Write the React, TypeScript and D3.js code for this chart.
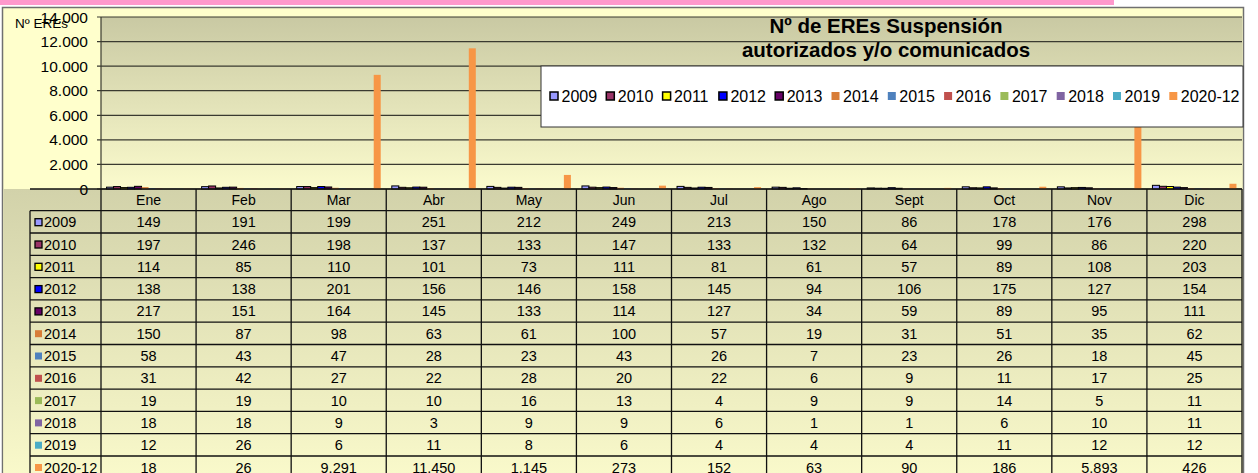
import React from "react";
import * as d3 from "d3";

const months = ["Ene", "Feb", "Mar", "Abr", "May", "Jun", "Jul", "Ago", "Sept", "Oct", "Nov", "Dic"];
const seriesNames = ["2009", "2010", "2011", "2012", "2013", "2014", "2015", "2016", "2017", "2018", "2019", "2020-12"];
const seriesColors = ["#9999ff", "#993366", "#ffff00", "#0000ff", "#660066", "#d87d38", "#4f81bd", "#c0504d", "#9bbb59", "#8064a2", "#4bacc6", "#f79646"];
const outlined = [true, true, true, true, true, false, false, false, false, false, false, false];

const v2009 = [149, 191, 199, 251, 212, 249, 213, 150, 86, 178, 176, 298];
const v2010 = [197, 246, 198, 137, 133, 147, 133, 132, 64, 99, 86, 220];
const v2011 = [114, 85, 110, 101, 73, 111, 81, 61, 57, 89, 108, 203];
const v2012 = [138, 138, 201, 156, 146, 158, 145, 94, 106, 175, 127, 154];
const v2013 = [217, 151, 164, 145, 133, 114, 127, 34, 59, 89, 95, 111];
const v2014 = [150, 87, 98, 63, 61, 100, 57, 19, 31, 51, 35, 62];
const v2015 = [58, 43, 47, 28, 23, 43, 26, 7, 23, 26, 18, 45];
const v2016 = [31, 42, 27, 22, 28, 20, 22, 6, 9, 11, 17, 25];
const v2017 = [19, 19, 10, 10, 16, 13, 4, 9, 9, 14, 5, 11];
const v2018 = [18, 18, 9, 3, 9, 9, 6, 1, 1, 6, 10, 11];
const v2019 = [12, 26, 6, 11, 8, 6, 4, 4, 4, 11, 12, 12];
const v2020 = [18, 26, 9291, 11450, 1145, 273, 152, 63, 90, 186, 5893, 426];

const seriesValues = [v2009, v2010, v2011, v2012, v2013, v2014, v2015, v2016, v2017, v2018, v2019, v2020];
const yTicks = [0, 2000, 4000, 6000, 8000, 10000, 12000, 14000];

const FONT = "'Liberation Sans', Arial, sans-serif";
const W = 1258;
const H = 473;

const fmt = (n: number) => {
  const s = String(n);
  return s.replace(/\B(?=(\d{3})+(?!\d))/g, ".");
};

export default function App() {
  const plotL = 101;
  const plotR = 1242;
  const plotT = 17;
  const plotB = 189;
  const rowH = 22.3;
  const headerH = 21.7;
  const labelColL = 30;

  const x = d3.scaleBand<string>().domain(months).range([plotL, plotR]).paddingInner(0).paddingOuter(0);
  const bw = x.bandwidth();
  const xs = d3.scaleBand<string>().domain(seriesNames).range([0, bw]).paddingInner(0).paddingOuter(0.79);
  const y = d3.scaleLinear().domain([0, 14000]).range([plotB, plotT]);

  const tableTop = plotB;
  const rowsTop = tableTop + headerH;
  const tableBottom = rowsTop + rowH * seriesNames.length;

  const legendX = 541;
  const legendY = 66;
  const legendW = 1243 - 541;
  const legendH = 61;
  const legendStep = 56.3;

  return (
    <svg width={W} height={H} style={{ position: "absolute", left: 0, top: 0 }} fontFamily={FONT}>
      <defs>
        <linearGradient id="plotGrad" x1="0" y1="0" x2="0" y2="1">
          <stop offset="0" stopColor="#c9c9a3" />
          <stop offset="1" stopColor="#fbfbcd" />
        </linearGradient>
        <linearGradient id="tableGrad" x1="0" y1="0" x2="0" y2="1">
          <stop offset="0" stopColor="#d2d2aa" />
          <stop offset="1" stopColor="#fbfbcc" />
        </linearGradient>
      </defs>
      <rect x={0} y={0} width={W} height={H} fill="#ffffff" />
      <rect x={0} y={0} width={1114} height={5} fill="#ff99cc" />
      {/* chart area */}
      <rect x={2.5} y={7.5} width={1241} height={480} fill="#ffffcc" stroke="#707070" strokeWidth={1.5} />
      <rect x={plotL} y={plotT} width={plotR - plotL} height={plotB - plotT} fill="url(#plotGrad)" />
      <rect x={3.5} y={tableTop} width={1239} height={tableBottom - tableTop + 10} fill="url(#tableGrad)" />

      {/* gridlines */}
      {yTicks.map((t) => (
        <g key={t}>
          <line x1={plotL - 4} x2={plotR} y1={y(t)} y2={y(t)} stroke="#3a3a30" strokeWidth={1.2} />
          <text x={88} y={y(t) + 5.5} textAnchor="end" fontSize={15.5} fill="#000">{fmt(t)}</text>
        </g>
      ))}
      <line x1={plotL} x2={plotL} y1={plotT} y2={plotB} stroke="#3a3a30" strokeWidth={1.2} />
      <text x={15} y={28} fontSize={13.5} fill="#000">Nº EREs</text>

      {/* bars */}
      {seriesNames.map((s, si) => (
        <g key={s}>
          {months.map((m, mi) => {
            const v = seriesValues[si][mi];
            const bx = (x(m) as number) + (xs(s) as number);
            const by = y(v);
            return (
              <rect
                key={m}
                x={bx}
                y={by}
                width={xs.bandwidth()}
                height={Math.max(0, plotB - by)}
                fill={seriesColors[si]}
                stroke={outlined[si] ? "#000" : "none"}
                strokeWidth={outlined[si] ? 1 : 0}
              />
            );
          })}
        </g>
      ))}

      {/* title */}
      <text x={886} y={33} textAnchor="middle" fontSize={20.5} fontWeight="bold" fill="#000">Nº de EREs Suspensión</text>
      <text x={886} y={56.5} textAnchor="middle" fontSize={20.5} fontWeight="bold" fill="#000">autorizados y/o comunicados</text>

      {/* legend */}
      <rect x={legendX} y={legendY} width={legendW} height={legendH} fill="#ffffff" stroke="#333" strokeWidth={1} />
      {seriesNames.map((s, si) => {
        const mx = 550 + si * legendStep;
        return (
          <g key={s}>
            <rect x={mx} y={92} width={8} height={8} fill={seriesColors[si]} stroke={outlined[si] ? "#000" : "none"} strokeWidth={outlined[si] ? 1.5 : 0} />
            <text x={mx + 11.5} y={101.5} fontSize={16} fill="#000">{s}</text>
          </g>
        );
      })}

      {/* data table */}
      <line x1={labelColL} x2={plotR} y1={tableTop} y2={tableTop} stroke="#111" strokeWidth={1.3} />
      {months.map((m) => (
        <text key={m} x={(x(m) as number) + bw / 2} y={tableTop + 15.5} textAnchor="middle" fontSize={14} fill="#000">{m}</text>
      ))}
      {seriesNames.map((s, si) => {
        const ry = rowsTop + si * rowH;
        return (
          <g key={s}>
            <line x1={labelColL} x2={plotR} y1={ry} y2={ry} stroke="#111" strokeWidth={1.3} />
            <rect x={35} y={ry + 8} width={7} height={7} fill={seriesColors[si]} stroke={outlined[si] ? "#000" : "none"} strokeWidth={outlined[si] ? 1.3 : 0} />
            <text x={44} y={ry + 16.5} fontSize={14.5} fill="#000">{s}</text>
            {months.map((m, mi) => (
              <text key={m} x={(x(m) as number) + bw / 2} y={ry + 16.5} textAnchor="middle" fontSize={14.5} fill="#000">
                {fmt(seriesValues[si][mi])}
              </text>
            ))}
          </g>
        );
      })}
      <line x1={labelColL} x2={labelColL} y1={rowsTop} y2={tableBottom + 10} stroke="#111" strokeWidth={1.3} />
      {months.map((m) => (
        <line key={m} x1={x(m) as number} x2={x(m) as number} y1={tableTop} y2={tableBottom + 10} stroke="#111" strokeWidth={1.3} />
      ))}
      <line x1={plotR} x2={plotR} y1={tableTop} y2={tableBottom + 10} stroke="#111" strokeWidth={1.3} />
    </svg>
  );
}
